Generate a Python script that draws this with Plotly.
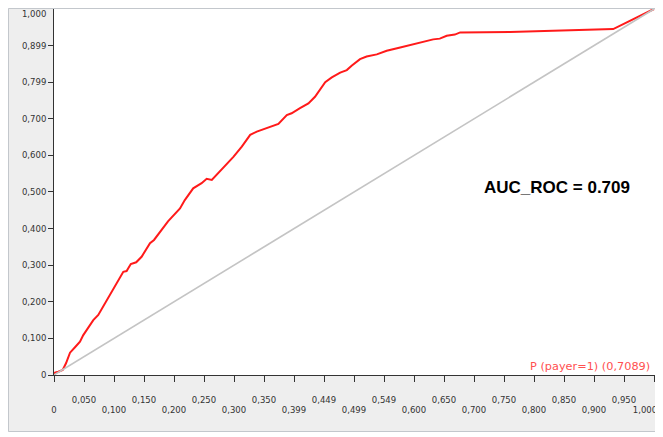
import plotly.graph_objects as go

# ROC curve values
fpr = [0, 0.0017, 0.0072, 0.0145, 0.020, 0.0267, 0.035, 0.0433, 0.0488, 0.0572,
       0.0655, 0.0738, 0.0795, 0.0905, 0.1017, 0.110, 0.1155, 0.121, 0.128, 0.137,
       0.146, 0.160, 0.1667, 0.190, 0.210, 0.218, 0.232, 0.246, 0.2545, 0.263,
       0.282, 0.299, 0.313, 0.327, 0.338, 0.3545, 0.374, 0.388, 0.396, 0.410,
       0.424, 0.435, 0.452, 0.463, 0.477, 0.488, 0.496, 0.510, 0.521, 0.538,
       0.5545, 0.577, 0.6045, 0.632, 0.643, 0.6545, 0.668, 0.677, 0.760, 0.838,
       0.927, 0.932, 1.0]
tpr = [0, 0.0063, 0.009, 0.0137, 0.032, 0.061, 0.0757, 0.091, 0.109, 0.128,
       0.150, 0.164, 0.180, 0.210, 0.241, 0.267, 0.282, 0.284, 0.303, 0.308,
       0.323, 0.360, 0.369, 0.420, 0.455, 0.478, 0.510, 0.524, 0.536, 0.533,
       0.565, 0.596, 0.624, 0.656, 0.665, 0.674, 0.686, 0.710, 0.715, 0.729,
       0.742, 0.760, 0.800, 0.813, 0.826, 0.833, 0.845, 0.863, 0.870, 0.876,
       0.886, 0.895, 0.906, 0.917, 0.919, 0.927, 0.930, 0.936, 0.937, 0.941,
       0.945, 0.945, 1.0]
diag_x = [0, 1]
diag_y = [0, 1]

x_tickvals = [0, 0.05, 0.1, 0.15, 0.2, 0.25, 0.3, 0.35, 0.4, 0.45, 0.5,
              0.55, 0.6, 0.65, 0.7, 0.75, 0.8, 0.85, 0.9, 0.95, 1.0]
x_ticktext = ["0", "0,050", "0,100", "0,150", "0,200", "0,250", "0,300", "0,350",
              "0,399", "0,449", "0,499", "0,549", "0,600", "0,650", "0,700",
              "0,750", "0,800", "0,850", "0,900", "0,950", "1,000"]
y_tickvals = [0, 0.1, 0.2, 0.3, 0.4, 0.5, 0.6, 0.7, 0.8, 0.9, 1.0]
y_ticktext = ["0", "0,100", "0,200", "0,300", "0,400", "0,500", "0,600",
              "0,700", "0,799", "0,899", "1,000"]

auc_label = "AUC_ROC = 0.709"
series_label = "P (payer=1) (0,7089)"

# staggered rows of x labels (the last one sits left of its tick)
upper_text = [t if i % 2 == 1 else "" for i, t in enumerate(x_ticktext)]
lower_vals = [v for i, v in enumerate(x_tickvals[:-1]) if i % 2 == 0]
lower_text = [t for i, t in enumerate(x_ticktext[:-1]) if i % 2 == 0]
last_val = [x_tickvals[-1]]
last_text = [x_ticktext[-1]]
y_text = list(y_ticktext)
y_text[-1] = "<br>" + y_text[-1]

tickfont = dict(family="DejaVu Sans", size=8.5, color="#333333")
xr = [0, 1.005]

fig = go.Figure()
fig.add_trace(go.Scatter(x=diag_x, y=diag_y, mode="lines", xaxis="x2",
                         line=dict(color="#c4c4c4", width=1.6), hoverinfo="skip"))
fig.add_trace(go.Scatter(x=fpr, y=tpr, mode="lines",
                         line=dict(color="#ff1a1a", width=2)))

fig.update_layout(
    width=663, height=424,
    margin=dict(l=46, r=14, t=0, b=57),
    paper_bgcolor="#eeeeee",
    plot_bgcolor="white",
    showlegend=False,
    xaxis=dict(range=xr, tickmode="array", tickvals=x_tickvals,
               ticktext=upper_text, automargin=False,
               ticks="outside", ticklen=6, tickcolor="#333333", tickwidth=1,
               showline=True, linecolor="#333333", linewidth=1,
               showgrid=False, zeroline=False, tickfont=tickfont,
               ticklabelstandoff=11),
    xaxis2=dict(range=xr, overlaying="x", side="bottom", matches="x",
                tickmode="array", tickvals=lower_vals, ticktext=lower_text,
                automargin=False, ticklabeloverflow="allow",
                ticks="", showline=False, showgrid=False, zeroline=False,
                tickfont=tickfont, ticklabelstandoff=28),
    xaxis3=dict(range=xr, overlaying="x", side="bottom", matches="x",
                tickmode="array", tickvals=last_val, ticktext=last_text,
                automargin=False, ticklabeloverflow="allow",
                ticks="", showline=False, showgrid=False, zeroline=False,
                tickfont=tickfont, ticklabelstandoff=28, ticklabelshift=-9),
    yaxis=dict(range=[0, 1.0027], tickmode="array", tickvals=y_tickvals,
               ticktext=y_text, ticks="outside", ticklen=5, automargin=False,
               ticklabeloverflow="allow",
               tickcolor="#333333", showline=True, linecolor="#333333",
               linewidth=1, showgrid=False, zeroline=False, tickfont=tickfont),
    shapes=[dict(type="rect", xref="paper", yref="paper",
                 x0=(-46 + 0.5) / 603, x1=1.03,
                 y0=(-57 + 0.5) / 367, y1=1 - 0.5 / 367,
                 line=dict(color="#c3c7cc", width=1), layer="above")],
    annotations=[
        dict(text=auc_label, x=0.713, y=0.513, xref="x", yref="y",
             xanchor="left", yanchor="middle", showarrow=False,
             font=dict(family="Liberation Sans", size=17, color="black",
                       weight="bold")),
        dict(text=series_label, x=0.997, y=0.022, xref="x", yref="y",
             xanchor="right", yanchor="middle", showarrow=False,
             font=dict(family="DejaVu Sans", size=11.3, color="#ff5050")),
    ],
)
# an empty trace so the third label axis is drawn
fig.add_trace(go.Scatter(x=[], y=[], xaxis="x3", hoverinfo="skip"))

fig.write_html("out.html")
